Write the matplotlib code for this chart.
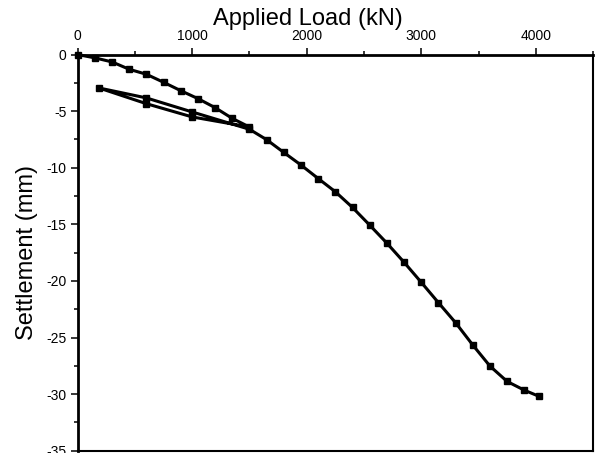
import matplotlib.pyplot as plt
from matplotlib.ticker import MultipleLocator

plt.rcParams['font.family'] = ['Liberation Sans', 'DejaVu Sans']
plt.rcParams['axes.unicode_minus'] = False

# loading, unload/reload loop at 1500 kN, then loading to failure
load = [0, 150, 300, 450, 600, 750, 900, 1050, 1200, 1350, 1500,
        1000, 600, 186, 600, 1000, 1500,
        1650, 1800, 1950, 2100, 2250, 2400, 2550, 2700, 2850, 3000,
        3150, 3300, 3450, 3600, 3750, 3900, 4030]
settlement = [0, -0.29, -0.65, -1.30, -1.74, -2.45, -3.19, -3.89, -4.69, -5.64, -6.40,
              -5.51, -4.34, -2.95, -3.83, -5.07, -6.60,
              -7.52, -8.65, -9.76, -10.95, -12.12, -13.51, -15.07, -16.66, -18.35, -20.12,
              -21.92, -23.69, -25.66, -27.52, -28.88, -29.65, -30.20]

fig = plt.figure(figsize=(5.96, 4.53), dpi=100)
ax = fig.add_axes([0.1304, 0.005, 0.8646, 0.8745])

ax.plot(load, settlement, color='black', lw=2.2, marker='s', ms=5,
        clip_on=False, zorder=3)

ax.set_xlim(0, 4500)
ax.set_ylim(-35, 0)
ax.xaxis.tick_top()
ax.xaxis.set_label_position('top')
ax.xaxis.set_major_locator(MultipleLocator(1000))
ax.xaxis.set_minor_locator(MultipleLocator(500))
ax.yaxis.set_major_locator(MultipleLocator(5))
ax.yaxis.set_minor_locator(MultipleLocator(2.5))

ax.tick_params(which='major', length=5, width=1.1, labelsize=10, pad=3)
ax.tick_params(which='minor', length=3, width=1.1)

ax.set_xlabel('Applied Load (kN)', fontsize=17, labelpad=3)
ax.xaxis.label.set_x(0.446)
ax.set_ylabel('Settlement (mm)', fontsize=17, labelpad=6)

ax.spines['left'].set_linewidth(2)
ax.spines['top'].set_linewidth(2)
ax.spines['right'].set_linewidth(1.5)
ax.spines['bottom'].set_linewidth(1.5)

fig.savefig('out.png', dpi=100)
plt.close()
